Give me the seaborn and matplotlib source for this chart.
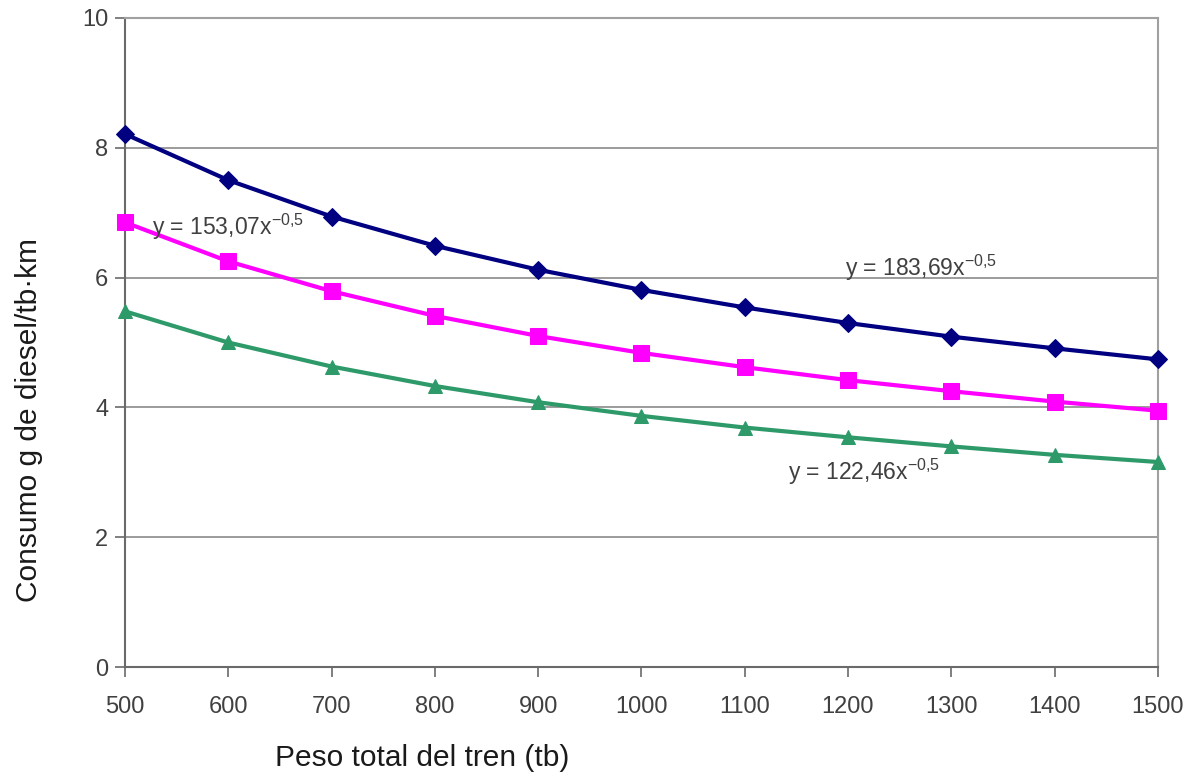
import pandas as pd
import seaborn as sns
import matplotlib
matplotlib.use("Agg")
import matplotlib.pyplot as plt

# Values
peso = [500, 600, 700, 800, 900, 1000, 1100, 1200, 1300, 1400, 1500]
serie_a = [8.21, 7.50, 6.94, 6.49, 6.12, 5.81, 5.54, 5.30, 5.09, 4.91, 4.74]
serie_b = [6.85, 6.25, 5.79, 5.41, 5.10, 4.84, 4.62, 4.42, 4.25, 4.09, 3.95]
serie_c = [5.48, 5.00, 4.63, 4.33, 4.08, 3.87, 3.69, 3.54, 3.40, 3.27, 3.16]

etiquetas = ["y = 183,69x", "y = 153,07x", "y = 122,46x"]
x_ticks = [500, 600, 700, 800, 900, 1000, 1100, 1200, 1300, 1400, 1500]
y_ticks = [0, 2, 4, 6, 8, 10]

sns.set_style("white")
plt.rcParams["font.family"] = ["Liberation Sans", "DejaVu Sans"]
plt.rcParams["mathtext.fontset"] = "custom"
plt.rcParams["mathtext.rm"] = "Liberation Sans"
plt.rcParams["axes.unicode_minus"] = False

fig = plt.figure(figsize=(11.9, 7.74), dpi=100)
ax = fig.add_axes([0.105, 0.138, 0.868, 0.839])

series = [
    (serie_a, "#000080", "D", 9.5),
    (serie_b, "#FF00FF", "s", 11.5),
    (serie_c, "#2E9A6A", "^", 10.5),
]
for vals, color, marker, ms in series:
    sns.lineplot(x=peso, y=vals, ax=ax, color=color, linewidth=3,
                 marker=marker, markersize=ms, markeredgecolor=color,
                 clip_on=False, zorder=3)

ax.set_xlim(500, 1500)
ax.set_ylim(0, 10)
ax.set_xticks(x_ticks)
ax.set_yticks(y_ticks)
ax.yaxis.grid(True, color="#8a8a8a", linewidth=1.2)
ax.xaxis.grid(False)

for side in ["top", "right"]:
    ax.spines[side].set_color("#a0a0a0")
    ax.spines[side].set_linewidth(1.5)
for side in ["left", "bottom"]:
    ax.spines[side].set_color("#6a6a6a")
    ax.spines[side].set_linewidth(1.5)

ax.tick_params(axis="x", direction="out", length=7, width=1.2, color="#6a6a6a",
               labelsize=17, labelcolor="#404040", pad=14, bottom=True)
ax.tick_params(axis="y", direction="out", length=7, width=1.2, color="#6a6a6a",
               labelsize=17, labelcolor="#404040", pad=5, left=True)

fig.text(0.024, 0.457, "Consumo g de diesel/tb·km", fontsize=21.5, color="#1a1a1a",
         rotation=90, ha="center", va="center")
fig.text(0.355, 0.021, "Peso total del tren (tb)", fontsize=21.5, color="#1a1a1a",
         ha="center", va="center")

exp = r"$^{\mathregular{-0{,}5}}$"
ax.text(1197, 6.15, etiquetas[0] + exp, fontsize=16.5, color="#404040", va="center")
ax.text(526, 6.78, etiquetas[1] + exp, fontsize=16.5, color="#404040", va="center")
ax.text(1142, 3.0, etiquetas[2] + exp, fontsize=16.5, color="#404040", va="center")

fig.savefig("out.png", dpi=100)
